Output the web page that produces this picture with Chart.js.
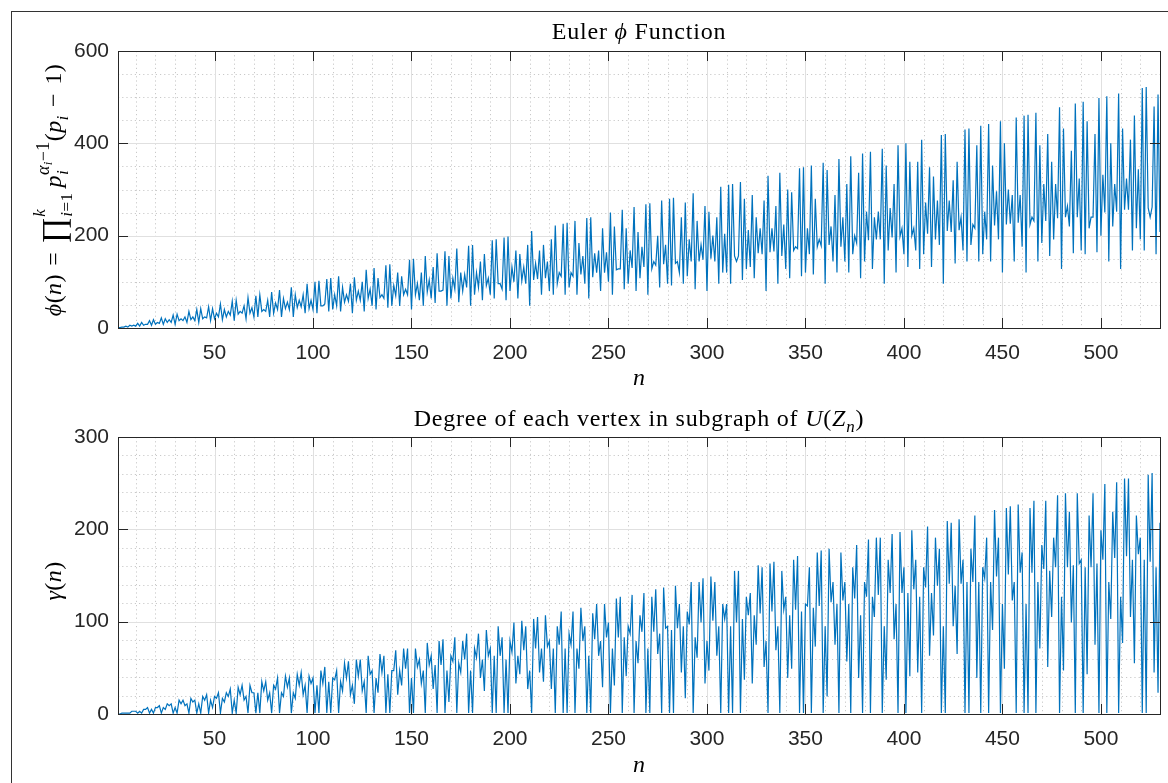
<!DOCTYPE html>
<html>
<head>
<meta charset="utf-8">
<script src="https://cdn.jsdelivr.net/npm/chart.js@4.4.1/dist/chart.umd.min.js"></script>
<style>
  body { margin: 0; background: #fff; overflow: hidden; }
  #frame { position: absolute; left: 11px; top: 11px; width: 1300px; height: 900px; border: 1px solid #333; }
  .plot { position: absolute; left: 0; }
</style>
</head>
<body>
<div id="frame"></div>
<canvas id="phiChart" class="plot" style="top:0px" width="1168" height="392"></canvas>
<canvas id="gammaChart" class="plot" style="top:392px" width="1168" height="391"></canvas>
<script>
// n runs from N_FIRST to N_LAST
const N_FIRST = 1;
const N_LAST = 530;
const xTicks = [50, 100, 150, 200, 250, 300, 350, 400, 450, 500];
const phiTicks = [0, 200, 400, 600];
const gammaTicks = [0, 100, 200, 300];

const phiValues = [
  1,1,2,2,4,2,6,4,6,4, 10,4,12,6,8,8,16,6,18,8,
  12,10,22,8,20,12,18,12,28,8, 30,16,20,16,24,12,36,18,24,16,
  40,12,42,20,24,22,46,16,42,20, 32,24,52,18,40,24,36,28,58,16,
  60,30,36,32,48,20,66,32,44,24, 70,24,72,36,40,36,60,24,78,32,
  54,40,82,24,64,42,56,40,88,24, 72,44,60,46,72,32,96,42,60,40,
  100,32,102,48,48,52,106,36,108,40, 72,48,112,36,88,56,72,58,96,32,
  110,60,80,60,100,36,126,64,84,48, 130,40,108,66,72,64,136,44,138,48,
  92,70,120,48,112,72,84,72,148,40, 150,72,96,60,120,48,156,78,104,64,
  132,54,162,80,80,82,166,48,156,64, 108,84,172,56,120,80,116,88,178,48,
  180,72,120,88,144,60,160,92,108,72, 190,64,192,96,96,84,196,60,198,80,
  132,100,168,64,160,102,132,96,180,48, 210,104,140,106,168,72,180,108,144,80,
  192,72,222,96,120,112,226,72,228,88, 120,112,232,72,184,116,156,96,238,64,
  240,110,162,120,168,80,216,120,164,100, 250,72,220,126,128,128,256,84,216,96,
  168,130,262,80,208,108,176,132,268,72, 270,128,144,136,200,88,276,138,180,96,
  280,92,282,140,144,120,240,96,272,112, 192,144,292,84,232,144,180,148,264,80,
  252,150,200,144,240,96,306,120,204,120, 310,96,312,156,144,156,316,104,280,128,
  212,132,288,108,240,162,216,160,276,80, 330,164,216,166,264,96,336,156,224,128,
  300,108,294,168,176,172,346,112,348,120, 216,160,352,116,280,176,192,178,358,96,
  342,180,220,144,288,120,366,176,240,144, 312,120,372,160,200,184,336,108,378,144,
  252,190,382,128,240,192,252,192,388,96, 352,168,260,196,312,120,396,198,216,160,
  400,132,360,200,216,168,360,128,408,160, 272,204,348,132,328,192,276,180,418,96,
  420,210,276,208,320,140,360,212,240,168, 430,144,432,180,224,216,396,144,438,160,
  252,192,442,144,352,222,296,192,448,120, 400,224,300,226,288,144,456,228,288,176,
  460,120,462,224,240,232,466,144,396,184, 312,232,420,156,360,192,312,238,478,128,
  432,240,264,220,384,162,486,240,324,168, 490,160,448,216,240,240,420,164,498,200,
  332,250,502,144,400,220,312,252,508,128, 432,256,324,256,408,168,460,216,344,192,
  520,168,522,260,240,262,480,160,506,208
];

const gammaValues = [
  0,0,1,1,1,1,1,3,3,3, 1,3,1,5,5,7,1,5,1,7,
  7,9,1,7,5,11,9,11,1,7, 1,15,11,15,9,11,1,17,13,15,
  1,11,1,19,15,21,1,15,7,19, 17,23,1,17,13,23,19,27,1,15,
  1,29,21,31,15,19,1,31,23,23, 1,23,1,35,25,35,15,23,1,31,
  27,39,1,23,19,41,29,39,1,23, 17,43,31,45,21,31,1,41,33,39,
  1,31,1,47,33,51,1,35,1,39, 37,47,1,35,25,55,39,57,21,31,
  11,59,41,59,25,35,1,63,43,47, 1,39,23,65,45,63,1,43,1,47,
  47,69,21,47,31,71,49,71,1,39, 1,71,51,59,33,47,1,77,53,63,
  27,53,1,79,53,81,1,47,13,63, 57,83,1,55,45,79,59,87,1,47,
  1,71,61,87,39,59,25,91,63,71, 1,63,1,95,63,83,1,59,1,79,
  67,99,33,63,43,101,69,95,27,47, 1,103,71,105,45,71,35,107,73,79,
  27,71,1,95,75,111,1,71,1,87, 75,111,1,71,49,115,79,95,1,63,
  1,109,81,119,63,79,29,119,83,99, 1,71,31,125,83,127,1,83,41,95,
  87,129,1,79,55,107,89,131,1,71, 1,127,89,135,65,87,1,137,93,95,
  1,91,1,139,93,119,45,95,17,111, 97,143,1,83,61,143,99,147,33,79,
  47,149,101,143,63,95,1,119,103,119, 1,95,1,155,99,155,1,103,37,127,
  107,131,33,107,75,161,109,159,51,79, 1,163,111,165,69,95,1,155,113,127,
  39,107,49,167,113,171,1,111,1,119, 117,159,1,115,73,175,117,177,1,95,
  19,179,121,143,75,119,1,175,123,143, 57,119,1,159,125,183,39,107,1,143,
  127,189,1,127,105,191,129,191,1,95, 37,167,131,195,81,119,1,197,131,159,
  1,131,41,199,135,167,45,127,1,159, 137,203,63,131,85,191,139,179,1,95,
  1,209,141,207,95,139,65,211,141,167, 1,143,1,179,143,215,39,143,1,159,
  147,191,1,143,91,221,149,191,1,119, 49,223,151,225,123,143,1,227,153,175,
  1,119,1,223,153,231,1,143,71,183, 157,231,51,155,105,191,159,237,1,127,
  47,239,159,219,99,161,1,239,163,167, 1,159,43,215,159,239,75,163,1,199,
  167,249,1,143,103,219,169,251,1,127, 77,255,171,255,105,167,55,215,173,191,
  1,167,1,259,165,261,45,159,23,207
];

const LINE_COLOR = '#0072BD';
const TEXT_COLOR = '#262626';
const AXIS_COLOR = '#262626';
const SERIF = '"Liberation Serif", "DejaVu Serif", serif';
const SANS = '"Liberation Sans", Arial, sans-serif';

// draws a list of text pieces (with sub/superscript offsets) centred on 0,0
function drawMath(ctx, items, size, spacing) {
  const fontOf = (it) => (it.it ? 'italic ' : '') + Math.round(size * (it.s || 1)) + 'px ' + SERIF;
  ctx.letterSpacing = (spacing || 0) + 'px';
  let x = 0, stackEnd = 0;
  const placed = [];
  for (const it of items) {
    ctx.font = fontOf(it);
    const w = ctx.measureText(it.t).width;
    if (it.close) x = Math.max(x, stackEnd);
    placed.push({ it, x });
    if (it.keep) {
      stackEnd = x + w;
    } else {
      x += w;
    }
  }
  const total = Math.max(x, stackEnd);
  ctx.textBaseline = 'alphabetic';
  ctx.textAlign = 'left';
  for (const p of placed) {
    ctx.font = fontOf(p.it);
    ctx.fillText(p.it.t, p.x - total / 2, -(p.it.dy || 0) * size);
  }
  ctx.letterSpacing = '0px';
}

const phiLabel = [
  { t: 'ϕ', it: 1 }, { t: '(' }, { t: 'n', it: 1 }, { t: ')' }, { t: '\u2004=\u2004' },
  { t: '∏', s: 1.35, dy: -0.14 },
  { t: 'k', it: 1, s: 0.72, dy: 0.66, keep: 1 },
  { t: 'i', it: 1, s: 0.72, dy: -0.44 }, { t: '=1', s: 0.72, dy: -0.44 },
  { t: '\u2009p', it: 1, close: 1 },
  { t: 'i', it: 1, s: 0.72, dy: -0.28, keep: 1 },
  { t: 'α', it: 1, s: 0.75, dy: 0.5 }, { t: 'i', it: 1, s: 0.56, dy: 0.36 }, { t: '−1', s: 0.75, dy: 0.5 },
  { t: '(', close: 1 }, { t: 'p', it: 1 }, { t: 'i', it: 1, s: 0.72, dy: -0.28 }, { t: '\u2004−\u20041)' }
];
const gammaLabel = [{ t: 'γ', it: 1 }, { t: '(' }, { t: 'n', it: 1 }, { t: ')' }];

const axesPlugin = {
  id: 'matlabAxes',
  beforeDatasetsDraw(chart, args, opts) {
    const { ctx, chartArea: a, scales } = chart;
    const xs = scales.x, ys = scales.y;
    ctx.save();
    ctx.lineWidth = 1;
    // minor grid, dotted
    ctx.strokeStyle = '#c9c9c9';
    ctx.setLineDash([1.2, 3]);
    for (let v = 10; v < N_LAST; v += 10) {
      if (v % 50 === 0) continue;
      const px = Math.round(xs.getPixelForValue(v)) + 0.5;
      ctx.beginPath(); ctx.moveTo(px, a.top); ctx.lineTo(px, a.bottom); ctx.stroke();
    }
    for (let v = opts.minorStep; v < ys.max; v += opts.minorStep) {
      if (opts.ticks.includes(v)) continue;
      const py = Math.round(ys.getPixelForValue(v)) + 0.5;
      ctx.beginPath(); ctx.moveTo(a.left, py); ctx.lineTo(a.right, py); ctx.stroke();
    }
    // major grid
    ctx.setLineDash([]);
    ctx.strokeStyle = '#e0e0e0';
    for (const v of xTicks) {
      const px = Math.round(xs.getPixelForValue(v)) + 0.5;
      ctx.beginPath(); ctx.moveTo(px, a.top); ctx.lineTo(px, a.bottom); ctx.stroke();
    }
    for (const v of opts.ticks) {
      const py = Math.round(ys.getPixelForValue(v)) + 0.5;
      ctx.beginPath(); ctx.moveTo(a.left, py); ctx.lineTo(a.right, py); ctx.stroke();
    }
    ctx.restore();
  },
  afterDatasetsDraw(chart, args, opts) {
    const { ctx, chartArea: a, scales } = chart;
    const xs = scales.x, ys = scales.y;
    const tl = 10;
    ctx.save();
    ctx.strokeStyle = AXIS_COLOR;
    ctx.lineWidth = 1;
    ctx.strokeRect(Math.round(a.left) + 0.5, Math.round(a.top) + 0.5, Math.round(a.right - a.left), Math.round(a.bottom - a.top));
    ctx.beginPath();
    for (const v of xTicks) {
      const px = Math.round(xs.getPixelForValue(v)) + 0.5;
      ctx.moveTo(px, a.bottom); ctx.lineTo(px, a.bottom - tl);
      ctx.moveTo(px, a.top); ctx.lineTo(px, a.top + tl);
    }
    for (const v of opts.ticks) {
      const py = Math.round(ys.getPixelForValue(v)) + 0.5;
      ctx.moveTo(a.left, py); ctx.lineTo(a.left + tl, py);
      ctx.moveTo(a.right, py); ctx.lineTo(a.right - tl, py);
    }
    ctx.stroke();

    // title, x label, y label
    ctx.fillStyle = '#000';
    const cx = (a.left + a.right) / 2;
    ctx.save();
    ctx.translate(cx, opts.titleY);
    drawMath(ctx, opts.title, 24, 0.8);
    ctx.restore();
    ctx.save();
    ctx.translate(cx, opts.xLabelY);
    drawMath(ctx, [{ t: 'n', it: 1 }], 24);
    ctx.restore();
    ctx.save();
    ctx.translate(opts.yLabelX, opts.yLabelY);
    ctx.rotate(-Math.PI / 2);
    drawMath(ctx, opts.yLabel, opts.yLabelSize, 0.4);
    ctx.restore();
    ctx.restore();
  }
};

function makeChart(id, values, yMax, yTicks, minorStep, pad, xAxisH, labels) {
  const points = values.map((v, i) => ({ x: N_FIRST + i, y: v }));
  return new Chart(document.getElementById(id), {
    type: 'line',
    data: {
      datasets: [{
        data: points,
        borderColor: LINE_COLOR,
        borderWidth: 1.2,
        pointRadius: 0,
        tension: 0,
        fill: false
      }]
    },
    options: {
      responsive: false,
      animation: false,
      devicePixelRatio: 1,
      parsing: false,
      layout: { padding: pad },
      plugins: {
        legend: { display: false },
        tooltip: { enabled: false },
        matlabAxes: Object.assign({ ticks: yTicks, minorStep }, labels)
      },
      scales: {
        x: {
          type: 'linear',
          min: N_FIRST,
          max: N_LAST,
          grid: { display: false, drawTicks: false },
          border: { display: false },
          afterBuildTicks: (s) => { s.ticks = xTicks.map((v) => ({ value: v })); },
          afterFit: (s) => { s.height = xAxisH; },
          ticks: { color: TEXT_COLOR, font: { family: SANS, size: 21 }, padding: 13, maxRotation: 0, autoSkip: false }
        },
        y: {
          type: 'linear',
          min: 0,
          max: yMax,
          grid: { display: false, drawTicks: false },
          border: { display: false },
          afterBuildTicks: (s) => { s.ticks = yTicks.map((v) => ({ value: v })); },
          afterFit: (s) => { s.width = 118; },
          ticks: { color: TEXT_COLOR, font: { family: SANS, size: 21 }, padding: 9 }
        }
      }
    },
    plugins: [axesPlugin]
  });
}

makeChart('phiChart', phiValues, 600, phiTicks, 50,
  { top: 51, right: 8, left: 0, bottom: 0 }, 64, {
    title: [{ t: 'Euler ' }, { t: 'ϕ', it: 1 }, { t: ' Function' }],
    titleY: 39, xLabelY: 385, yLabelX: 61, yLabelY: 190, yLabel: phiLabel, yLabelSize: 24
  });

makeChart('gammaChart', gammaValues, 300, gammaTicks, 20,
  { top: 45, right: 8, left: 0, bottom: 0 }, 69, {
    title: [{ t: 'Degree of each vertex in subgraph of ' }, { t: 'U', it: 1 }, { t: '(' }, { t: 'Z', it: 1 },
      { t: 'n', it: 1, s: 0.7, dy: -0.25 }, { t: ')' }],
    titleY: 34, xLabelY: 380, yLabelX: 61, yLabelY: 189, yLabel: gammaLabel, yLabelSize: 24
  });
</script>
</body>
</html>
